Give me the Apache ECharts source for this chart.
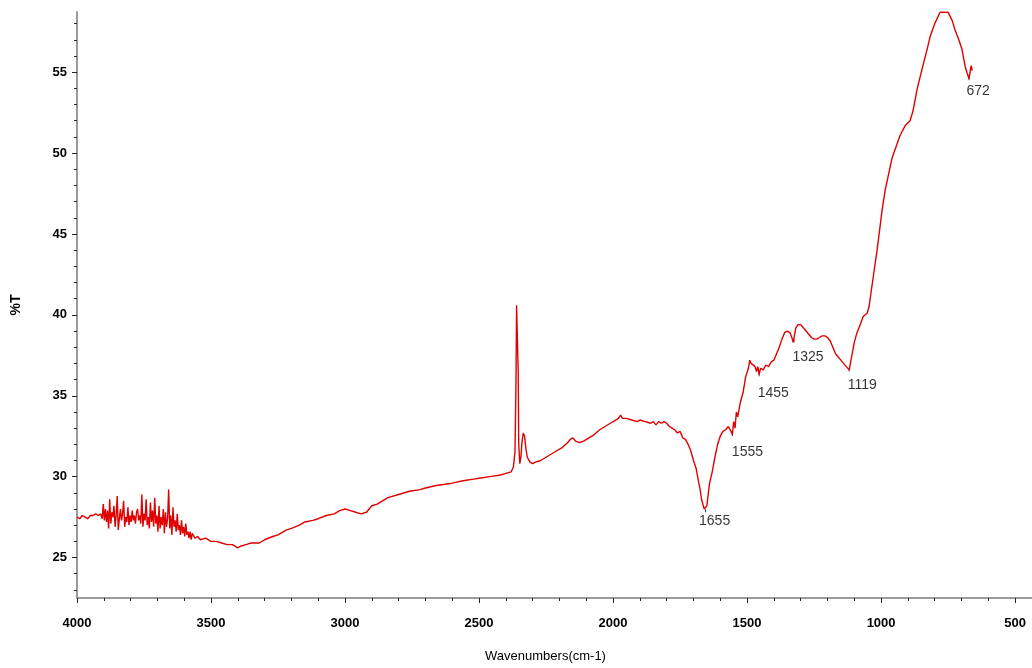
<!DOCTYPE html>
<html>
<head>
<meta charset="utf-8">
<script src="https://cdn.jsdelivr.net/npm/echarts@6/dist/echarts.min.js"></script>
<style>
html,body{margin:0;padding:0;background:#fff;}
#chart{width:1032px;height:668px;}
</style>
</head>
<body>
<div id="chart"></div>
<script>
// ---- data ----
const wavenumbers = [
4000,3990,3980,3970,3960,3950,3940,3930,3920,3912,3906,3902,3898,3894,3890,3886,3882,3878,3874,3870,
3866,3862,3858,3854,3850,3846,3842,3838,3834,3830,3826,3822,3818,3814,3810,3806,3802,3798,3794,3790,
3786,3782,3778,3774,3770,3766,3762,3758,3754,3750,3746,3742,3738,3734,3730,3726,3722,3718,3714,3710,
3706,3702,3698,3694,3690,3686,3682,3678,3674,3670,3666,3662,3658,3654,3650,3646,3642,3638,3634,3630,
3626,3622,3618,3614,3610,3606,3602,3598,3594,3590,3586,3582,3578,3574,3570,3560,3550,3540,3520,3500,
3480,3460,3440,3420,3400,3390,3370,3350,3320,3300,3270,3250,3220,3200,3170,3150,3120,3100,3070,3040,
3020,3000,2980,2960,2940,2920,2900,2880,2860,2840,2800,2760,2720,2700,2660,2620,2600,2560,2520,2500,
2460,2420,2400,2380,2372,2366,2362,2360,2356,2354,2352,2348,2344,2340,2335,2330,2325,2320,2310,2300,
2290,2270,2250,2230,2210,2190,2170,2160,2150,2140,2125,2110,2090,2070,2050,2030,2010,1990,1980,1972,
1965,1950,1930,1910,1900,1880,1860,1850,1840,1830,1820,1810,1800,1790,1780,1770,1760,1750,1740,1730,
1720,1710,1700,1690,1680,1675,1670,1665,1660,1655,1650,1645,1640,1630,1620,1610,1600,1590,1580,1570,
1560,1555,1550,1545,1540,1535,1525,1515,1505,1495,1490,1485,1480,1470,1465,1460,1455,1450,1440,1430,
1420,1410,1400,1390,1380,1370,1360,1350,1340,1333,1328,1325,1318,1310,1300,1290,1280,1270,1260,1250,
1240,1230,1220,1210,1200,1190,1180,1170,1160,1150,1140,1130,1119,1110,1100,1090,1080,1067,1052,1045,
1034,1015,996,985,959,929,910,892,881,865,847,830,817,800,780,750,735,724,710,698,
687,680,672,668,664,660
];
const transmittance = [
27.5,27.4,27.6,27.5,27.4,27.6,27.6,27.7,27.6,27.7,27.4,28.3,27.3,28.0,27.2,27.9,26.8,28.6,27.1,27.8,
27.5,28.2,26.9,27.6,28.8,26.7,27.4,28.0,27.3,27.7,28.5,26.9,27.5,27.2,28.1,27.0,27.6,27.2,27.9,27.3,
27.6,27.1,27.8,28.0,27.3,27.6,27.1,28.9,26.9,27.7,27.3,28.6,27.0,27.5,26.8,28.4,27.2,27.9,26.9,28.7,
27.1,27.6,26.6,28.2,26.8,27.5,27.0,28.0,26.5,27.8,26.9,27.4,29.2,26.8,27.6,26.4,28.1,26.9,27.3,26.6,
27.7,26.7,27.0,26.4,27.3,26.5,26.9,26.3,27.1,26.4,26.6,26.2,26.6,26.1,26.5,26.2,26.3,26.1,26.2,26.0,
26.0,25.9,25.8,25.8,25.6,25.7,25.8,25.9,25.9,26.1,26.3,26.4,26.7,26.8,27.0,27.2,27.3,27.4,27.6,27.7,
27.9,28.0,27.9,27.8,27.7,27.8,28.2,28.3,28.5,28.7,28.9,29.1,29.2,29.3,29.45,29.55,29.6,29.75,29.85,29.9,
30.0,30.1,30.2,30.3,30.6,31.5,36.0,40.6,40.6,36.5,32.0,30.8,31.2,32.1,32.7,32.5,31.7,31.2,30.9,30.8,
30.9,31.0,31.2,31.4,31.6,31.8,32.1,32.3,32.4,32.2,32.1,32.2,32.4,32.6,32.9,33.1,33.3,33.5,33.6,33.8,
33.6,33.6,33.5,33.4,33.5,33.4,33.3,33.4,33.2,33.4,33.3,33.4,33.3,33.1,33.0,32.9,32.7,32.8,32.4,32.3,
32.0,31.6,31.0,30.5,29.6,29.2,28.6,28.3,28.0,27.9,28.2,28.9,29.6,30.3,31.2,32.0,32.5,32.8,32.9,33.1,
32.8,32.6,33.4,33.0,34.0,33.7,34.6,35.2,36.2,36.7,37.2,37.0,37.1,36.8,36.5,36.8,36.3,36.7,36.6,36.9,
36.8,37.1,37.2,37.6,38.0,38.5,38.9,39.0,38.9,38.6,38.3,38.4,39.2,39.4,39.4,39.2,39.0,38.8,38.6,38.5,
38.5,38.6,38.7,38.7,38.6,38.4,38.0,37.6,37.4,37.2,37.0,36.8,36.6,37.4,38.3,38.9,39.3,39.9,40.1,40.5,
41.8,44.0,46.5,47.7,49.7,51.1,51.7,52.0,52.6,54.0,55.2,56.3,57.2,58.0,58.7,58.7,58.2,57.6,57.0,56.4,
55.4,55.0,54.6,55.0,55.4,55.1
];
const peakWavenumbers = [1655, 1555, 1455, 1325, 1119, 672];
const peakLabels = ["1655", "1555", "1455", "1325", "1119", "672"];
const peakLabelOffsets = [[-6, 5], [0, 12], [-1, 13], [-1, 11], [-1, 10], [-2, 7]];
const yMajorTicks = [25, 30, 35, 40, 45, 50, 55];
const yMinorTicks = [23,24,26,27,28,29,31,32,33,34,36,37,38,39,41,42,43,44,46,47,48,49,51,52,53,54,56,57,58];
const xMajorTicks = [4000, 3500, 3000, 2500, 2000, 1500, 1000, 500];
const xMinorTicks = [];
for (let v = 500; v <= 4000; v += 100) { if (v % 500 !== 0) xMinorTicks.push(v); }

// ---- build series data ----
const spectrum = wavenumbers.map((w, i) => [w, transmittance[i]]);
const peaks = peakWavenumbers.map((w, i) => {
  const idx = wavenumbers.indexOf(w);
  return {
    value: [w, transmittance[idx]],
    label: {
      show: true,
      formatter: peakLabels[i],
      position: peakLabelOffsets[i],
      align: 'left',
      verticalAlign: 'top'
    }
  };
});

const chart = echarts.init(document.getElementById('chart'), null, {renderer: 'canvas'});
const FONT = 'Liberation Sans, Arial, sans-serif';
chart.setOption({
  animation: false,
  backgroundColor: '#ffffff',
  grid: {left: 77, right: 0, top: 12, bottom: 62, containLabel: false},
  xAxis: [{
    type: 'value',
    inverse: true,
    min: 437,
    max: 4000,
    name: 'Wavenumbers(cm-1)',
    nameLocation: 'middle',
    nameGap: 52,
    nameTextStyle: {fontFamily: FONT, fontSize: 13, color: '#000', padding: [0, 18, 0, 0]},
    axisLine: {show: true, lineStyle: {color: '#9a9a9a', width: 2}},
    axisTick: {show: true, customValues: xMajorTicks, length: 5, lineStyle: {color: '#222', width: 1}},
    axisLabel: {customValues: xMajorTicks, formatter: v => String(v), fontFamily: FONT, fontSize: 13, fontWeight: 'bold', color: '#000', margin: 19, showMaxLabel: true, showMinLabel: true},
    splitLine: {show: false}
  }, {
    type: 'value',
    inverse: true,
    min: 437,
    max: 4000,
    position: 'bottom',
    axisLine: {show: false},
    axisTick: {show: true, customValues: xMinorTicks, length: 3, lineStyle: {color: '#222', width: 1}},
    axisLabel: {show: false},
    splitLine: {show: false}
  }],
  yAxis: [{
    type: 'value',
    min: 22.5,
    max: 58.72,
    name: '%T',
    nameLocation: 'middle',
    nameGap: 54,
    nameRotate: 90,
    nameTextStyle: {fontFamily: FONT, fontSize: 14, fontWeight: 'bold', color: '#000'},
    axisLine: {show: true, lineStyle: {color: '#9a9a9a', width: 2}},
    axisTick: {show: true, customValues: yMajorTicks, length: 5, lineStyle: {color: '#222', width: 1}},
    axisLabel: {customValues: yMajorTicks, formatter: v => String(v), fontFamily: FONT, fontSize: 13, fontWeight: 'bold', color: '#000', margin: 10},
    splitLine: {show: false}
  }, {
    type: 'value',
    min: 22.5,
    max: 58.72,
    position: 'left',
    axisLine: {show: false},
    axisTick: {show: true, customValues: yMinorTicks, length: 3, lineStyle: {color: '#222', width: 1}},
    axisLabel: {show: false},
    splitLine: {show: false}
  }],
  series: [{
    type: 'line',
    xAxisIndex: 0,
    yAxisIndex: 0,
    data: spectrum,
    showSymbol: false,
    symbol: 'none',
    lineStyle: {color: '#e00000', width: 1.4},
    clip: true,
    silent: true
  }, {
    type: 'scatter',
    xAxisIndex: 0,
    yAxisIndex: 0,
    data: peaks,
    symbol: 'rect',
    symbolSize: [1, 3],
    itemStyle: {color: '#000'},
    label: {fontFamily: FONT, fontSize: 14, color: '#000'},
    silent: true
  }]
});
</script>
</body>
</html>
